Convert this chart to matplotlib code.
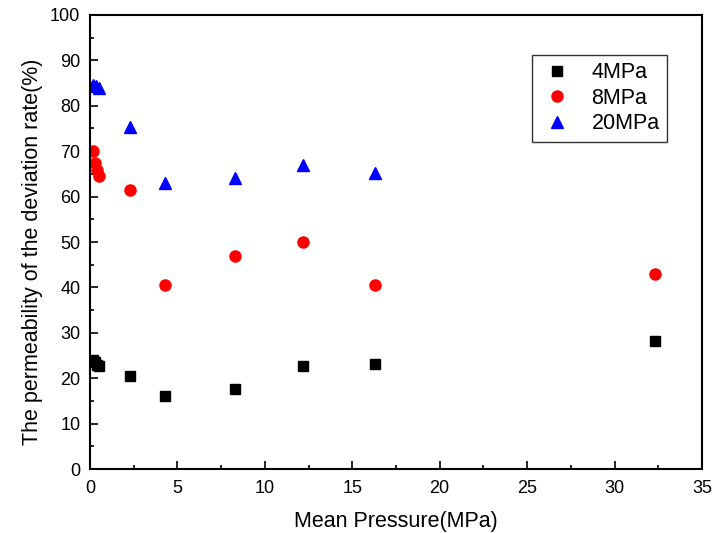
import matplotlib
matplotlib.use('Agg')
import matplotlib.pyplot as plt
from matplotlib.ticker import MultipleLocator

plt.rcParams['font.family'] = ['Liberation Sans', 'DejaVu Sans']

# mean pressure (MPa) and deviation rate (%) for each confining pressure
p_4 = [0.2, 0.3, 0.4, 0.5, 2.3, 4.3, 8.3, 12.2, 16.3, 32.3]
rate_4 = [24.0, 23.5, 23.0, 22.6, 20.4, 16.1, 17.6, 22.6, 23.2, 28.1]

p_8 = [0.2, 0.3, 0.4, 0.5, 2.3, 4.3, 8.3, 12.2, 16.3, 32.3]
rate_8 = [70.0, 67.3, 65.8, 64.5, 61.4, 40.5, 47.0, 50.0, 40.5, 43.0]

p_20 = [0.2, 0.35, 0.5, 2.3, 4.3, 8.3, 12.2, 16.3]
rate_20 = [84.6, 84.4, 84.0, 75.4, 63.0, 64.2, 67.0, 65.2]

fig = plt.figure(figsize=(7.21, 5.33), dpi=100)
ax = fig.add_axes([0.1248, 0.120, 0.8488, 0.8519])

ax.plot(p_4, rate_4, 's', color='black', markersize=7, label='4MPa')
ax.plot(p_8, rate_8, 'o', color='red', markersize=8, label='8MPa')
ax.plot(p_20, rate_20, '^', color='blue', markersize=9, label='20MPa')

ax.set_xlim(0, 35)
ax.set_ylim(0, 100)
ax.xaxis.set_major_locator(MultipleLocator(5))
ax.xaxis.set_minor_locator(MultipleLocator(2.5))
ax.yaxis.set_major_locator(MultipleLocator(10))
ax.yaxis.set_minor_locator(MultipleLocator(5))
ax.tick_params(which='both', direction='in', top=False, right=False,
               labelsize=13, width=1.2)
ax.tick_params(which='major', length=6)
ax.tick_params(which='minor', length=3)
ax.tick_params(axis='x', pad=8)
ax.tick_params(axis='y', pad=7)
for sp in ax.spines.values():
    sp.set_linewidth(1.5)

ax.set_xlabel('Mean Pressure(MPa)', fontsize=15.5, labelpad=10)
ax.set_ylabel('The permeability of the deviation rate(%)', fontsize=15.5)
ax.yaxis.set_label_coords(-0.077, 0.478)

leg = ax.legend(loc='upper right', bbox_to_anchor=(0.943, 0.912), borderaxespad=0,
                fontsize=15.5, fancybox=False, edgecolor='#333333', framealpha=1,
                handletextpad=0.8, borderpad=0.35, labelspacing=0.2,
                handlelength=1.6)
leg.get_frame().set_linewidth(1.0)

plt.savefig('out.png', dpi=100)
